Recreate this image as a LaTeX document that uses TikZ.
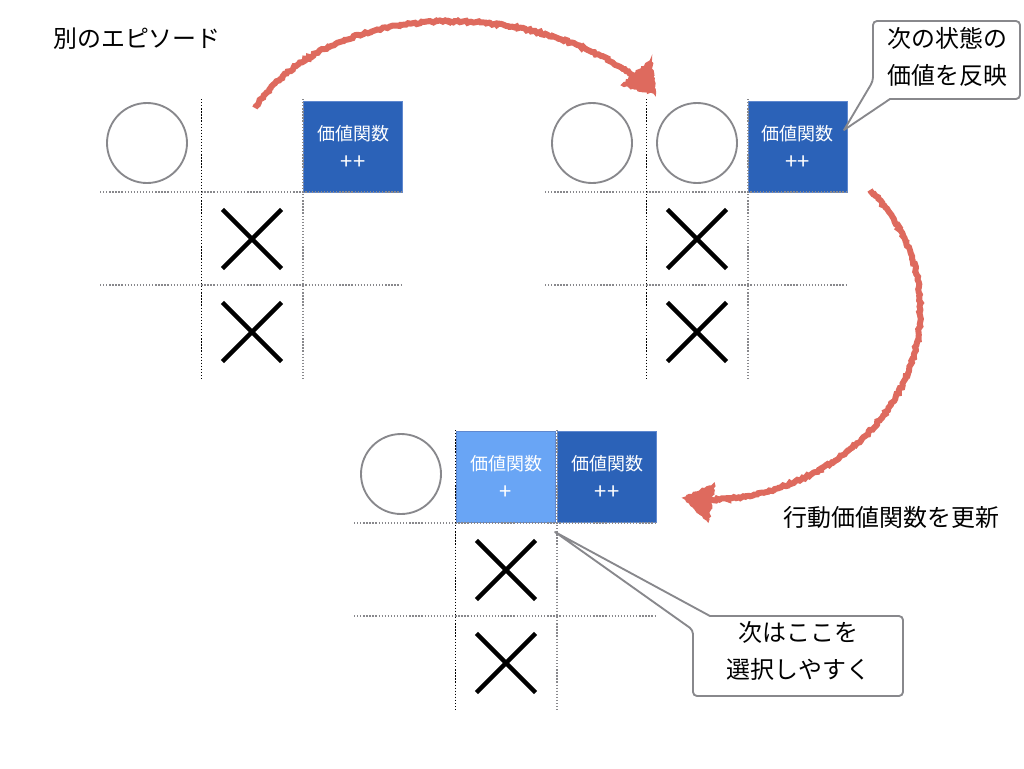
\documentclass[tikz,border=0pt]{standalone}
\usepackage{fontspec}
\setmainfont{Noto Sans CJK JP}
\usetikzlibrary{positioning, shapes.misc, decorations.pathmorphing}
\definecolor{chalkred}{HTML}{DE6A5E}
\definecolor{valuedark}{HTML}{2B62B8}
\definecolor{valuelight}{HTML}{69A5F5}
\definecolor{valueedge}{HTML}{5F88CF}
\definecolor{linegray}{HTML}{88888C}
\newcommand{\plusfont}{\fontsize{16.5}{21.75}\selectfont}
\tikzset{
    bigtext/.style={font=\fontsize{17.95}{27.75}\selectfont,align=center,inner sep=0pt},
    valuecell/.style={font=\fontsize{13.5}{21.75}\selectfont,align=center,text=white,inner sep=0pt,minimum width=74pt,minimum height=68pt,draw=valueedge,line width=0.4pt},
    ring/.style={shape=circle,draw=linegray,line width=1.4pt,inner sep=0pt,minimum size=60pt},
    crossmark/.style={shape=rectangle,cross out,draw=black,line width=3.4pt,inner sep=0pt,minimum size=41pt},
    gridblack/.style={black,line width=0.7pt,dash pattern=on 1pt off 1.3pt},
    gridgray/.style={linegray,line width=0.9pt,dash pattern=on 1pt off 1.3pt},
    calloutbox/.style={draw=linegray,fill=white,line width=1.4pt,line join=round},
    chalk/.style={draw=chalkred,line width=4.5pt,decorate,decoration={random steps,segment length=1.6pt,amplitude=0.8pt}},
    chalkhead/.style={draw=chalkred,fill=chalkred,line width=1.5pt,decorate,decoration={random steps,segment length=1.6pt,amplitude=0.9pt}},
}
\begin{document}
\begin{tikzpicture}[x=0.75pt,y=-0.75pt]
	    \useasboundingbox (0,0) rectangle (1024,768);
	    % value cells go under the grid
		    \node[valuecell,fill=valuedark] (va) at (353,147) {価値関数\\{\plusfont ++}};
		    \node[valuecell,fill=valuedark] (vb) at (797.5,147) {価値関数\\{\plusfont ++}};
		    \node[valuecell,fill=valuelight] (vc) at (506,477) {価値関数\\{\plusfont +}};
		    \node[valuecell,fill=valuedark] (vd) at (607,477) {価値関数\\{\plusfont ++}};
	    % the three boards
		    \foreach \bx/\by/\bn in {0/0/a,445/0/b,254/331/c}{
		    \draw[gridgray] (\bx+100,\by+192) -- (\bx+402,\by+192);
		    \draw[gridgray] (\bx+100,\by+285) -- (\bx+402,\by+285);
		    \draw[gridblack] (\bx+201,\by+99) -- (\bx+201,\by+379);
		    \draw[gridgray] (\bx+303,\by+99) -- (\bx+303,\by+379);
		    \node[ring] (ring\bn) at (\bx+147,\by+143) {};
		    \node[crossmark] (crossu\bn) at (\bx+252,\by+239) {};
		    \node[crossmark] (crossd\bn) at (\bx+252,\by+332) {};
		    }
		    \node[ring] (ringb2) at (697,143) {};
	    % labels
		    \node[bigtext] (title) at (137,39) {別のエピソード};
		    \node[bigtext] (update) at (891.5,517) {行動価値関数を更新};
	    % callouts
		    \coordinate (tipnext) at (844,130);
		    \coordinate (tipcell) at (555,532);
		    \draw[calloutbox] (873,81) -- (tipnext) -- (890,99) [rounded corners=3pt] -- (1020,99) -- (1020,21) -- (873,21) -- cycle;
		    \node[bigtext] (nextnote) at (947.5,56.5) {次の状態の\\価値を反映};
		    \draw[calloutbox] (693,630) -- (tipcell) -- (710,616) [rounded corners=3pt] -- (903,616) -- (903,696) -- (693,696) -- cycle;
		    \node[bigtext] (choosenote) at (798.5,651) {次はここを\\選択しやすく};
	    % chalk arrows
		    \pgfmathsetseed{7}
		    \coordinate (froma) at (255,108);
		    \coordinate (tob) at (636,78);
		    \coordinate (fromb) at (870,190);
		    \coordinate (toc) at (712,500);
		    \draw[chalk] (froma) .. controls (330,-2) and (530,-2) .. (tob);
		    \draw[chalkhead] (651,60) -- (655,94) -- (622,85) -- cycle;
		    \draw[chalk] (fromb) .. controls (905,225) and (922,270) .. (920,315) .. controls (918,410) and (830,495) .. (toc);
		    \draw[chalkhead] (684,498) -- (714,484) -- (708,521) -- cycle;
		\end{tikzpicture}
\end{document}
